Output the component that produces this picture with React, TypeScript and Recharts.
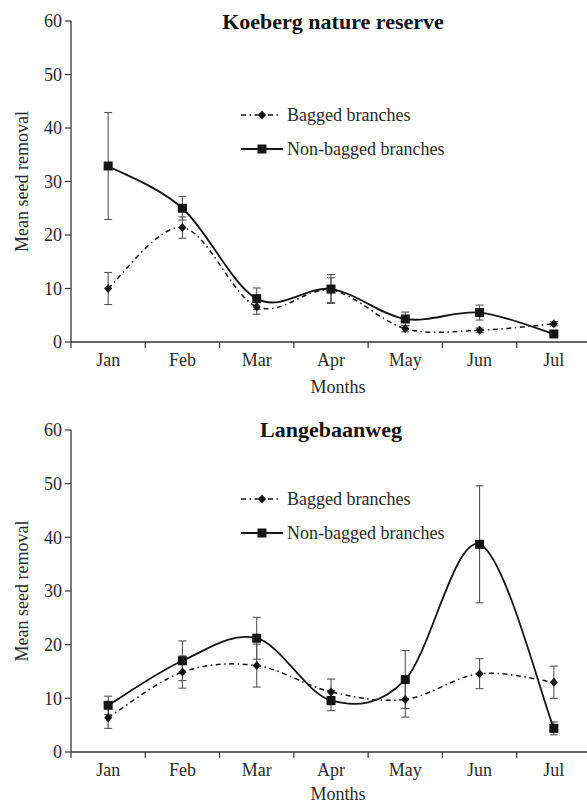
import { LineChart, Line, XAxis, YAxis, ErrorBar, Legend } from "recharts";

const months = ["Jan", "Feb", "Mar", "Apr", "May", "Jun", "Jul"];

const koebergBagged = [10, 21.4, 6.6, 9.7, 2.5, 2.2, 3.4];
const koebergBaggedErr = [3, 2, 1.4, 2.3, 0.6, 0.4, 0.4];
const koebergNonBagged = [32.9, 25, 8.1, 9.9, 4.3, 5.5, 1.5];
const koebergNonBaggedErr = [10, 2.2, 2, 2.7, 1.3, 1.4, 0.3];

const langeBagged = [6.4, 14.9, 16.1, 11.2, 9.8, 14.6, 13.0];
const langeBaggedErr = [2, 3, 4, 2.4, 3.3, 2.8, 3];
const langeNonBagged = [8.7, 17.0, 21.2, 9.6, 13.5, 38.7, 4.4];
const langeNonBaggedErr = [1.7, 3.7, 3.9, 1.9, 5.4, 10.9, 1.2];

const yTicks = [0, 10, 20, 30, 40, 50, 60];
const xTicks = [0, 0.5, 1, 1.5, 2, 2.5, 3, 3.5, 4, 4.5, 5, 5.5, 6, 6.5, 7];

const FONT = "'Liberation Serif', 'Times New Roman', serif";
const TEXT = "#2a2a2a";
const AXIS = "#333";
const LINE = "#141414";
const ERR = "#555";
const DASH = "5 3.5 1.5 3.5";

// Excel-style smoothed line (cardinal spline through every point)
const excelCurve = (context: any) => {
  let pts: number[][] = [];
  return {
    areaStart() {},
    areaEnd() {},
    lineStart() {
      pts = [];
    },
    lineEnd() {
      if (!pts.length) return;
      context.moveTo(pts[0][0], pts[0][1]);
      for (let i = 0; i < pts.length - 1; i++) {
        const p0 = pts[i - 1] || pts[i];
        const p1 = pts[i];
        const p2 = pts[i + 1];
        const p3 = pts[i + 2] || p2;
        context.bezierCurveTo(
          p1[0] + (p2[0] - p0[0]) / 6, p1[1] + (p2[1] - p0[1]) / 6,
          p2[0] - (p3[0] - p1[0]) / 6, p2[1] - (p3[1] - p1[1]) / 6,
          p2[0], p2[1]
        );
      }
    },
    point(x: number, y: number) {
      pts.push([+x, +y]);
    },
  };
};

const Diamond = ({ cx, cy }: { cx: number; cy: number }) => (
  <polygon points={`${cx},${cy - 4.5} ${cx + 4},${cy} ${cx},${cy + 4.5} ${cx - 4},${cy}`} fill={LINE} />
);

const Square = ({ cx, cy }: { cx: number; cy: number }) => (
  <rect x={cx - 4.5} y={cy - 4.5} width={9} height={9} fill={LINE} />
);

const MonthTick = (props: any) => {
  const { x, y, payload } = props;
  const v = payload.value;
  if (Number.isInteger(v)) {
    return <line x1={x} x2={x} y1={y} y2={y + 6} stroke={AXIS} strokeWidth={1.2} />;
  }
  return (
    <text x={x} y={y + 18} dy="0.35em" textAnchor="middle" fill={TEXT} fontSize={18} fontFamily={FONT}>
      {months[Math.floor(v)]}
    </text>
  );
};

const renderLegend = () => (
  <div style={{ fontFamily: FONT, fontSize: 18, color: TEXT }}>
    <div style={{ display: "flex", alignItems: "center", height: 34, whiteSpace: "nowrap" }}>
      <svg width={46} height={12}>
        <line x1={0} x2={37} y1={6} y2={6} stroke={LINE} strokeWidth={1.5} strokeDasharray={DASH} />
        <Diamond cx={21} cy={6} />
      </svg>
      <span>Bagged branches</span>
    </div>
    <div style={{ display: "flex", alignItems: "center", height: 34, whiteSpace: "nowrap" }}>
      <svg width={46} height={12}>
        <line x1={0} x2={42} y1={6} y2={6} stroke={LINE} strokeWidth={1.8} />
        <Square cx={21} cy={6} />
      </svg>
      <span>Non-bagged branches</span>
    </div>
  </div>
);

interface SiteProps {
  title: string;
  titleTop: number;
  titleCenter: number;
  top: number;
  height: number;
  marginTop: number;
  xAxisHeight: number;
  monthsOffset: number;
  legendTop: number;
  bagged: number[];
  baggedErr: number[];
  nonBagged: number[];
  nonBaggedErr: number[];
}

const SiteChart = (p: SiteProps) => {
  const data = months.map((m, i) => ({
    month: m,
    x: i + 0.5,
    bagged: p.bagged[i],
    baggedErr: [p.baggedErr[i], p.baggedErr[i]],
    nonBagged: p.nonBagged[i],
    nonBaggedErr: [p.nonBaggedErr[i], p.nonBaggedErr[i]],
  }));

  return (
    <div style={{ position: "absolute", left: 0, top: p.top, width: 591, height: p.height }}>
      <LineChart width={591} height={p.height} data={data} margin={{ top: p.marginTop, right: 0, bottom: 0, left: 0 }}>
        <XAxis
          dataKey="x"
          type="number"
          domain={[0, 7]}
          ticks={xTicks}
          interval={0}
          allowDecimals
          height={p.xAxisHeight}
          tickSize={0}
          tickMargin={0}
          tickLine={false}
          tick={<MonthTick />}
          axisLine={{ stroke: AXIS, strokeWidth: 1.3 }}
          label={{
            content: (lp: any) => (
              <text x={338} y={(lp.viewBox?.y ?? p.height - p.xAxisHeight) + p.monthsOffset} dy="0.35em" textAnchor="middle" fill={TEXT} fontSize={18} fontFamily={FONT}>
                Months
              </text>
            ),
          }}
        />
        <YAxis
          width={71}
          domain={[0, 60]}
          ticks={yTicks}
          interval={0}
          tickSize={6}
          tickMargin={3}
          tickLine={{ stroke: AXIS, strokeWidth: 1.2 }}
          axisLine={{ stroke: AXIS, strokeWidth: 1.3 }}
          tick={{ fill: TEXT, fontSize: 18, fontFamily: FONT }}
          label={{
            content: (lp: any) => {
              const vb = lp.viewBox || { y: p.marginTop, height: p.height - p.marginTop - p.xAxisHeight };
              const cy = vb.y + vb.height / 2;
              return (
                <text x={22} y={cy} dy="0.35em" textAnchor="middle" transform={`rotate(-90 22 ${cy})`} fill={TEXT} fontSize={18} fontFamily={FONT}>
                  Mean seed removal
                </text>
              );
            },
          }}
        />
        <Legend
          layout="vertical"
          align="center"
          verticalAlign="middle"
          content={renderLegend}
          wrapperStyle={{ left: 241, top: p.legendTop, width: "auto", height: "auto" }}
        />
        <Line
          dataKey="bagged"
          name="Bagged branches"
          type={excelCurve as any}
          stroke={LINE}
          strokeWidth={1.5}
          strokeDasharray={DASH}
          dot={(d: any) => <Diamond key={`b${d.index}`} cx={d.cx} cy={d.cy} />}
          activeDot={false}
          isAnimationActive={false}
        >
          <ErrorBar dataKey="baggedErr" direction="y" width={4} stroke={ERR} strokeWidth={1.1} />
        </Line>
        <Line
          dataKey="nonBagged"
          name="Non-bagged branches"
          type={excelCurve as any}
          stroke={LINE}
          strokeWidth={1.8}
          dot={(d: any) => <Square key={`n${d.index}`} cx={d.cx} cy={d.cy} />}
          activeDot={false}
          isAnimationActive={false}
        >
          <ErrorBar dataKey="nonBaggedErr" direction="y" width={4} stroke={ERR} strokeWidth={1.1} />
        </Line>
      </LineChart>
      <div
        style={{
          position: "absolute",
          left: p.titleCenter - 200,
          width: 400,
          top: p.titleTop,
          textAlign: "center",
          fontFamily: FONT,
          fontWeight: "bold",
          fontSize: 22,
          lineHeight: "22px",
          color: "#111",
        }}
      >
        {p.title}
      </div>
    </div>
  );
};

export default function App() {
  return (
    <div style={{ position: "absolute", left: 0, top: 0, width: 587, height: 804, overflow: "hidden", background: "#fff" }}>
      <SiteChart
        title="Koeberg nature reserve"
        titleTop={11}
        titleCenter={333}
        top={0}
        height={400}
        marginTop={21}
        xAxisHeight={58}
        monthsOffset={45}
        legendTop={98}
        bagged={koebergBagged}
        baggedErr={koebergBaggedErr}
        nonBagged={koebergNonBagged}
        nonBaggedErr={koebergNonBaggedErr}
      />
      <SiteChart
        title="Langebaanweg"
        titleTop={19}
        titleCenter={331}
        top={400}
        height={404}
        marginTop={30}
        xAxisHeight={52}
        monthsOffset={42}
        legendTop={82}
        bagged={langeBagged}
        baggedErr={langeBaggedErr}
        nonBagged={langeNonBagged}
        nonBaggedErr={langeNonBaggedErr}
      />
    </div>
  );
}
